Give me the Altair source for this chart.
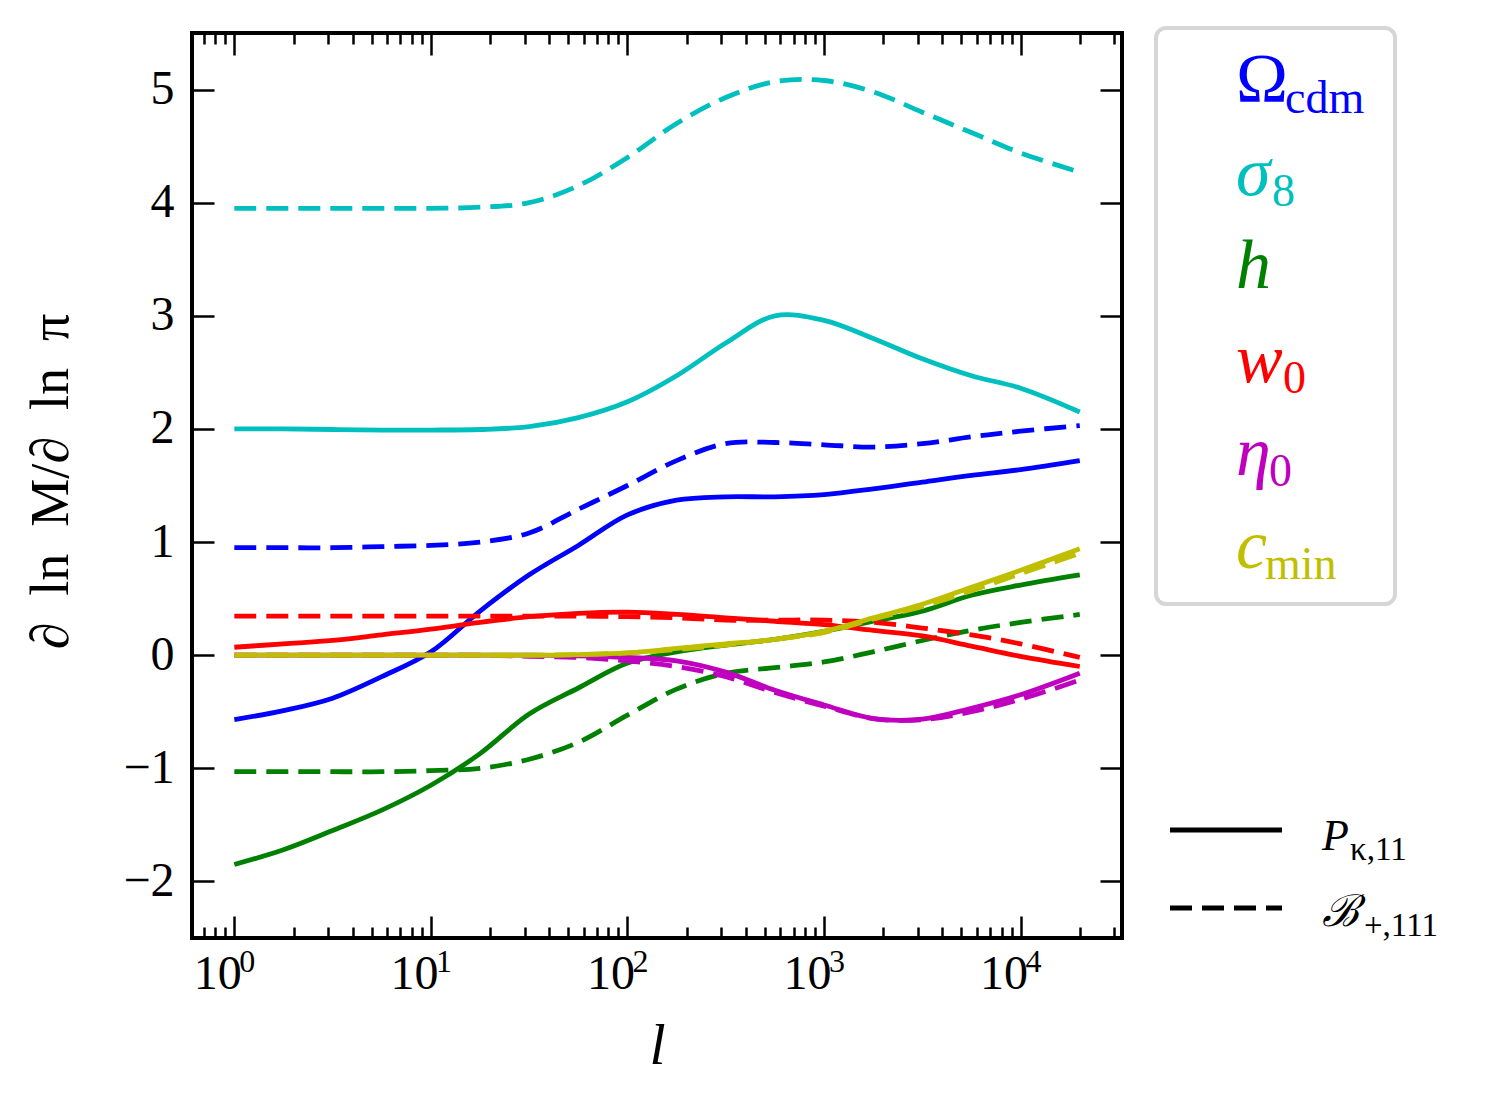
import altair as alt
import pandas as pd

# ---------------- data ----------------
L = [1, 1.778, 3.162, 5.623, 10, 17.78, 31.62, 56.23, 100, 177.8, 316.2,
     562.3, 1000, 1778, 3162, 5623, 10000, 20000]

PARAMS = ["Omega_cdm", "sigma_8", "h", "w_0", "eta_0", "c_min"]
COLORS = ["#0000ff", "#00bfbf", "#008000", "#ff0000", "#bf00bf", "#bfbf00"]

P_SOLID = {
    "Omega_cdm": [-0.57, -0.49, -0.38, -0.19, 0.03, 0.39, 0.71, 0.97, 1.24, 1.37, 1.40, 1.40, 1.42, 1.47, 1.53, 1.59, 1.64, 1.72],
    "sigma_8": [2.0, 2.0, 1.995, 1.99, 1.99, 1.995, 2.02, 2.1, 2.24, 2.47, 2.76, 3.0, 2.96, 2.8, 2.62, 2.47, 2.36, 2.15],
    "h": [-1.85, -1.72, -1.55, -1.37, -1.15, -0.87, -0.52, -0.29, -0.07, 0.03, 0.09, 0.14, 0.21, 0.3, 0.39, 0.53, 0.62, 0.71],
    "w_0": [0.07, 0.1, 0.13, 0.18, 0.23, 0.29, 0.34, 0.37, 0.38, 0.36, 0.33, 0.3, 0.27, 0.22, 0.17, 0.08, -0.01, -0.1],
    "eta_0": [0, 0, 0, 0, 0, 0, 0, -0.005, -0.02, -0.05, -0.15, -0.31, -0.44, -0.56, -0.565, -0.47, -0.35, -0.16],
    "c_min": [0, 0, 0, 0, 0, 0, 0, 0.005, 0.02, 0.06, 0.1, 0.14, 0.21, 0.33, 0.45, 0.6, 0.75, 0.94],
}
B_DASH = {
    "Omega_cdm": [0.95, 0.95, 0.95, 0.96, 0.97, 1.0, 1.08, 1.29, 1.5, 1.72, 1.87, 1.88, 1.86, 1.84, 1.87, 1.93, 1.98, 2.03],
    "sigma_8": [3.95, 3.95, 3.95, 3.95, 3.95, 3.96, 4.0, 4.15, 4.4, 4.7, 4.93, 5.07, 5.08, 4.98, 4.8, 4.62, 4.44, 4.27],
    "h": [-1.03, -1.03, -1.03, -1.03, -1.02, -1.0, -0.92, -0.77, -0.53, -0.3, -0.16, -0.11, -0.06, 0.03, 0.13, 0.22, 0.29, 0.36],
    "w_0": [0.345, 0.345, 0.345, 0.345, 0.345, 0.345, 0.345, 0.345, 0.34, 0.33, 0.31, 0.31, 0.31, 0.29, 0.24, 0.18, 0.1, -0.02],
    "eta_0": [0, 0, 0, 0, 0, 0, -0.01, -0.02, -0.05, -0.1, -0.19, -0.33, -0.45, -0.56, -0.57, -0.5, -0.39, -0.22],
    "c_min": [0, 0, 0, 0, 0, 0, 0, 0.005, 0.02, 0.05, 0.09, 0.14, 0.2, 0.32, 0.43, 0.57, 0.72, 0.9],
}

DECADES = [1, 10, 100, 1000, 10000]
EXPONENTS = ["0", "1", "2", "3", "4"]
MINOR = [0.7, 0.8, 0.9, 2, 3, 4, 5, 6, 7, 8, 9, 20, 30, 40, 50, 60, 70, 80, 90,
         200, 300, 400, 500, 600, 700, 800, 900, 2000, 3000, 4000, 5000, 6000,
         7000, 8000, 9000, 20000, 30000]
Y_TICKS = [-2, -1, 0, 1, 2, 3, 4, 5]

LEGEND_MAIN = ["Ω", "σ", "h", "w", "η", "c"]
LEGEND_MAIN_STYLE = ["normal", "italic", "italic", "italic", "italic", "italic"]
LEGEND_SUB = ["cdm", "8", "", "0", "0", "min"]
STYLE_MAIN = ["P", "ℬ"]
STYLE_SUB = ["κ,11", "+,111"]

# ---------------- layout ----------------
W, H = 930, 905
FONT = "Liberation Serif"
X_DOMAIN = [0.609, 32800]
Y_DOMAIN = [-2.5, 5.5]
LW = 4.8
DASH = [22, 10]

xscale = alt.Scale(type="log", domain=X_DOMAIN, nice=False)
yscale = alt.Scale(domain=Y_DOMAIN, nice=False, zero=False)

layers = []

# data lines
for p, col in zip(PARAMS, COLORS):
    for dashed, vals in ((False, P_SOLID[p]), (True, B_DASH[p])):
        df = pd.DataFrame({"l": L, "v": vals})
        kw = dict(color=col, strokeWidth=LW, interpolate="catmull-rom")
        if dashed:
            kw["strokeDash"] = DASH
        layers.append(
            alt.Chart(df).mark_line(**kw).encode(
                x=alt.X("l:Q", scale=xscale, axis=None),
                y=alt.Y("v:Q", scale=yscale, axis=None),
            )
        )

# axis-only layers
base_df = pd.DataFrame({"l": L, "v": P_SOLID[PARAMS[0]]})

common_axis = dict(domain=False, grid=False, tickColor="black", tickWidth=2.5,
                   labelFont=FONT, labelColor="black", labelFlush=False,
                   labelOverlap=False, titleFont=FONT, titleColor="black")

ax_bottom_major = alt.Axis(orient="bottom", values=DECADES, tickSize=22, offset=-22,
                           labelExpr="'10'", labelFontSize=48, labelPadding=50,
                           labelOffset=-17,
                           labelBaseline="alphabetic", title="l", titleFontSize=58,
                           titleFontStyle="italic", titleFontWeight="normal",
                           titleY=147, titleBaseline="alphabetic", **common_axis)
ax_left = alt.Axis(orient="left", values=Y_TICKS, tickSize=22, offset=-22,
                   format="d", labelFontSize=48, labelPadding=18,
                   title="∂\u2002ln\u2002M/∂\u2002ln\u2002π", titleFontSize=54,
                   titleFontWeight="normal",
                   titleAngle=270, titleX=-147, titleY=448, titleAlign="center",
                   titleBaseline="alphabetic", **common_axis)
ax_bottom_minor = alt.Axis(orient="bottom", values=MINOR, tickSize=11, offset=-11,
                           labels=False, title=None, **common_axis)
ax_right = alt.Axis(orient="right", values=Y_TICKS, tickSize=22, offset=-22,
                    labels=False, title=None, **common_axis)
ax_top_major = alt.Axis(orient="top", values=DECADES, tickSize=22, offset=-22,
                        labels=False, title=None, **common_axis)
ax_top_minor = alt.Axis(orient="top", values=MINOR, tickSize=11, offset=-11,
                        labels=False, title=None, **common_axis)

for xa, ya in ((ax_bottom_major, ax_left), (ax_bottom_minor, ax_right),
               (ax_top_major, None), (ax_top_minor, None)):
    layers.append(
        alt.Chart(base_df).mark_line(opacity=0).encode(
            x=alt.X("l:Q", scale=xscale, axis=xa),
            y=alt.Y("v:Q", scale=yscale, axis=ya),
        )
    )

# exponents of the x tick labels (placed through the x scale)
exp_df = pd.DataFrame({"l": DECADES, "e": EXPONENTS})
layers.append(
    alt.Chart(exp_df).mark_text(font=FONT, fontSize=32, color="black", align="left",
                                baseline="alphabetic", dx=5).encode(
        x=alt.X("l:Q", scale=xscale, axis=None), y=alt.value(H + 34), text="e:N")
)

# ---------------- legends (positioned in pixels relative to the plot) ----------------
one = pd.DataFrame({"a": [0]})
layers.append(
    alt.Chart(one).mark_rect(fill="white", stroke="#d6d6d6", strokeWidth=4,
                             cornerRadius=10).encode(
        x=alt.value(964), x2=alt.value(1203), y=alt.value(-5), y2=alt.value(571))
)
ROW_BASE = [69, 162, 255, 349, 442, 535]
SUB_X = [1093, 1080, 1080, 1091, 1077, 1073]
for i, (m, st, s, col) in enumerate(zip(LEGEND_MAIN, LEGEND_MAIN_STYLE, LEGEND_SUB, COLORS)):
    layers.append(
        alt.Chart(one).mark_text(text=m, font=FONT, fontSize=70, fontStyle=st,
                                 color=col, align="left", baseline="alphabetic").encode(
            x=alt.value(1044), y=alt.value(ROW_BASE[i]))
    )
    if s:
        layers.append(
            alt.Chart(one).mark_text(text=s, font=FONT, fontSize=46, color=col,
                                     align="left", baseline="alphabetic").encode(
                x=alt.value(SUB_X[i]), y=alt.value(ROW_BASE[i] + 11))
        )

STYLE_LINE_Y = [797, 875]
STYLE_BASE = [817, 893]
STYLE_SUB_X = [1158, 1172]
for i, (m, s) in enumerate(zip(STYLE_MAIN, STYLE_SUB)):
    kw = dict(color="black", strokeWidth=LW)
    if i == 1:
        kw["strokeDash"] = DASH
    layers.append(
        alt.Chart(one).mark_rule(**kw).encode(
            x=alt.value(978), x2=alt.value(1090), y=alt.value(STYLE_LINE_Y[i]))
    )
    layers.append(
        alt.Chart(one).mark_text(text=m, font=FONT, fontSize=44, fontStyle="italic",
                                 color="black", align="left", baseline="alphabetic").encode(
            x=alt.value(1130), y=alt.value(STYLE_BASE[i]))
    )
    layers.append(
        alt.Chart(one).mark_text(text=s, font=FONT, fontSize=33, color="black",
                                 align="left", baseline="alphabetic").encode(
            x=alt.value(STYLE_SUB_X[i]), y=alt.value(STYLE_BASE[i] + 10))
    )

chart = alt.layer(*layers).resolve_axis(x="independent", y="independent").properties(
    width=W, height=H,
    autosize=alt.AutoSizeParams(type="none"),
    padding={"left": 184, "top": 25, "right": 360, "bottom": 150},
    background="white",
).configure_view(stroke="black", strokeWidth=4)

chart.save("out.html", embed_options={"renderer": "svg", "actions": False})
